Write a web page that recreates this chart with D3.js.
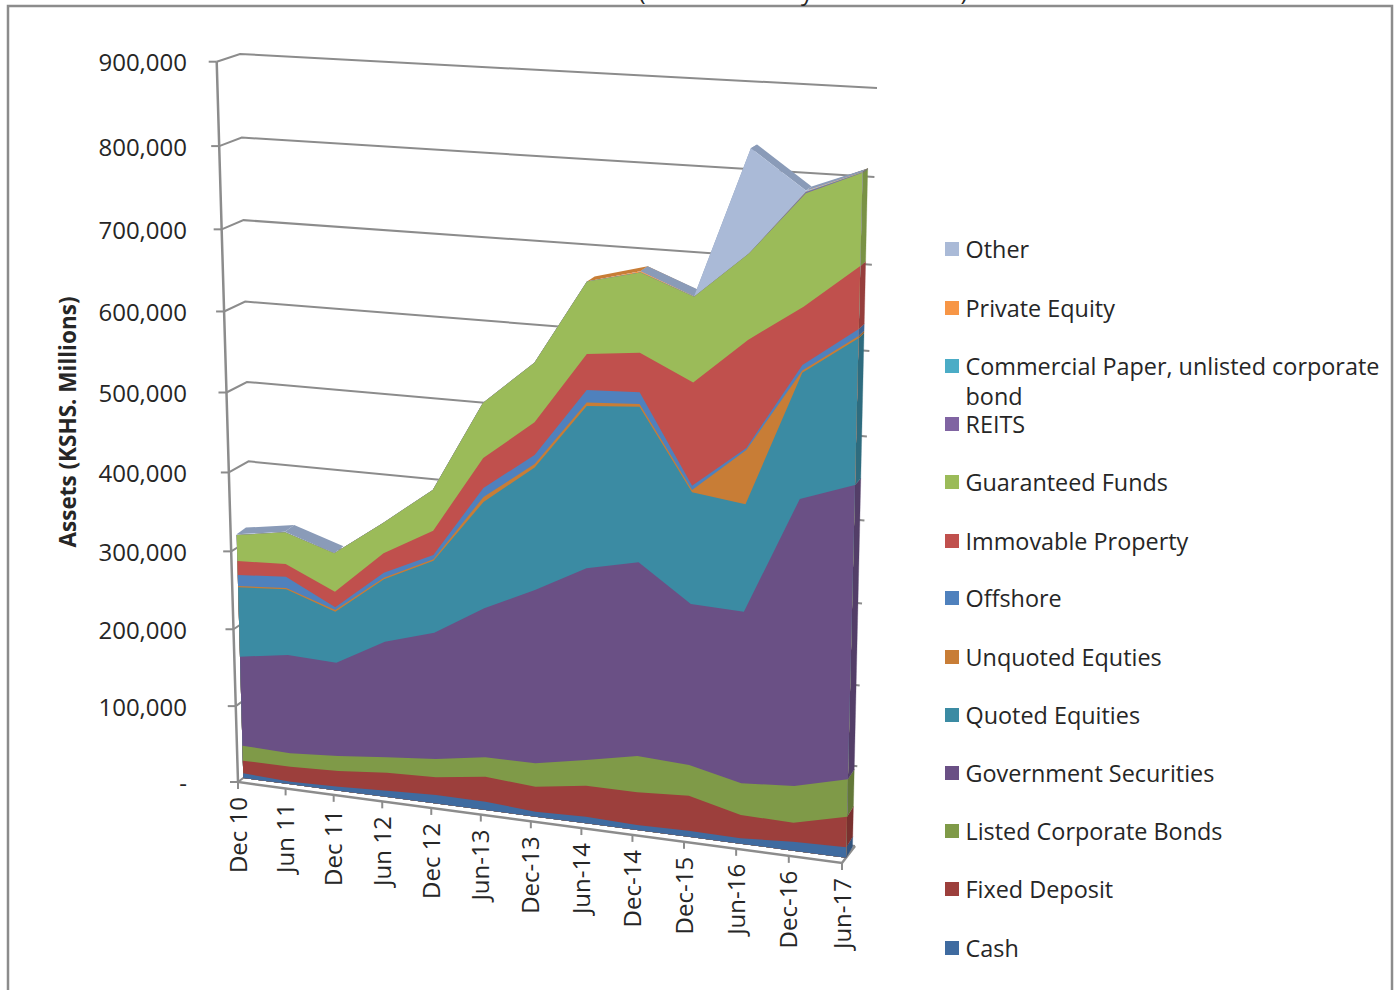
<!DOCTYPE html>
<html>
<head>
<meta charset="utf-8">
<style>
  html, body { margin: 0; padding: 0; background: #fff; overflow: hidden; }
  text { font-family: "Open Sans", "Noto Sans", sans-serif; fill: #262626; }
</style>
<script src="https://cdn.jsdelivr.net/npm/d3@7"></script>
</head>
<body>
<svg id="svg"></svg>
<script>
var width = 1398, height = 990;

var dates = ['Dec 10', 'Jun 11', 'Dec 11', 'Jun 12', 'Dec 12', 'Jun-13', 'Dec-13', 'Jun-14', 'Dec-14', 'Dec-15', 'Jun-16', 'Dec-16', 'Jun-17'];
var yTicks = [0, 100000, 200000, 300000, 400000, 500000, 600000, 700000, 800000, 900000];

// values in KSHS millions
var cash = [6200, 3400, 5200, 8300, 11100, 10800, 6400, 8500, 6400, 7900, 6900, 11400, 13100];
var fixedDeposit = [16800, 19800, 20700, 23600, 23000, 32400, 32200, 39800, 41800, 44500, 29500, 24000, 38400];
var listedBonds = [19800, 17700, 19600, 20000, 23900, 25000, 30100, 32800, 46100, 38800, 40100, 46000, 46600];
var government = [116800, 128300, 121200, 149100, 161900, 189600, 219000, 240500, 241400, 200300, 212700, 350600, 356800];
var quoted = [89800, 84600, 65500, 79400, 90800, 132400, 151200, 197600, 188300, 135900, 130000, 149000, 171300];
var unquoted = [1600, 1700, 2200, 2000, 1700, 6200, 4100, 4000, 3100, 2700, 64900, 2400, 2600];
var offshore = [14200, 14300, 3500, 6300, 5500, 11100, 11000, 15200, 14200, 5200, 2500, 6600, 8100];
var immovable = [18000, 16300, 19800, 24400, 30300, 36800, 39700, 42900, 46900, 123000, 127200, 67600, 72300];
var guaranteed = [33200, 40300, 48800, 38200, 50600, 67100, 71900, 85700, 94200, 100900, 100500, 129800, 105600];
var reits = [0, 0, 0, 0, 0, 0, 0, 0, 0, 0, 0, 1000, 300];
var commercial = [0, 0, 0, 0, 0, 0, 0, 0, 0, 0, 0, 500, 200];
var privateEquity = [0, 0, 0, 0, 0, 0, 0, 0, 1500, 0, 0, 300, 200];
var other = [800, 800, 0, 0, 0, 0, 0, 0, 0, 600, 120000, 1200, 0];

var names = ['Cash', 'Fixed Deposit', 'Listed Corporate Bonds', 'Government Securities', 'Quoted Equities', 'Unquoted Equties', 'Offshore', 'Immovable Property', 'Guaranteed Funds', 'REITS', 'Commercial Paper, unlisted corporate bond', 'Private Equity', 'Other'];
var values = [cash, fixedDeposit, listedBonds, government, quoted, unquoted, offshore, immovable, guaranteed, reits, commercial, privateEquity, other];
var colors = ['#3f6ba0', '#9c3f3c', '#7f9a48', '#6a5085', '#3b8ba3', '#c87d36', '#4f81bd', '#c0504d', '#9bbb59', '#8064a2', '#4bacc6', '#f79646', '#aabad7'];
var surfaceColors = {'REITS': '#6a5085', 'Commercial Paper, unlisted corporate bond': '#3b8ba3', 'Private Equity': '#c87d36', 'Other': '#8a9bb8'};

var svg = d3.select('#svg').attr('width', width).attr('height', height);

// frame of the original picture, cut off at the bottom
svg.append('rect').attr('x', 8).attr('y', 6).attr('width', 1384).attr('height', 1020)
  .attr('fill', 'none').attr('stroke', '#8c8c8c').attr('stroke-width', 2.5);

// bottom of the clipped title
svg.append('text').attr('x', 642).attr('y', 0).attr('text-anchor', 'middle').attr('font-size', 24).text('(');
svg.append('text').attr('x', 807).attr('y', 0).attr('text-anchor', 'middle').attr('font-size', 24).text('y');
svg.append('text').attr('x', 964).attr('y', 0).attr('text-anchor', 'middle').attr('font-size', 24).text(')');

// maps the unit square onto a quad, corners given as (0,0) (1,0) (1,1) (0,1)
function plane(p0, p1, p2, p3) {
  var dx1 = p1[0] - p2[0], dx2 = p3[0] - p2[0], sx = p0[0] - p1[0] + p2[0] - p3[0];
  var dy1 = p1[1] - p2[1], dy2 = p3[1] - p2[1], sy = p0[1] - p1[1] + p2[1] - p3[1];
  var den = dx1 * dy2 - dx2 * dy1;
  var g = (sx * dy2 - dx2 * sy) / den, h = (dx1 * sy - sx * dy1) / den;
  var a = p1[0] - p0[0] + g * p1[0], b = p3[0] - p0[0] + h * p3[0];
  var d = p1[1] - p0[1] + g * p1[1], e = p3[1] - p0[1] + h * p3[1];
  return function (u, v) {
    var w = g * u + h * v + 1;
    return [(a * u + b * v + p0[0]) / w, (d * u + e * v + p0[1]) / w];
  };
}

var x = d3.scaleLinear().domain([0, dates.length - 1]).range([0, 1]);
var y = d3.scaleLinear().domain([0, 900000]).range([0, 1]);

var axisPlane = plane([238, 782], [842, 863], [859, 100], [216.7, 61.7]);
var wallPlane = plane([255, 769], [855, 846], [877, 88], [240, 54]);
var frontPlane = plane([243.3, 778], [846, 857.7], [864.4, 96.4], [223.6, 59.3]);
var backPlane = plane([253.3, 770], [852.5, 847], [869.4, 93.4], [231.6, 54.3]);

var lineGen = d3.line();
var gridColor = '#8c8c8c';

// gridlines run from the left axis to the wall corner, then along the wall
yTicks.forEach(function (t) {
  svg.append('path')
    .attr('d', lineGen([axisPlane(0, y(t)), wallPlane(0, y(t)), wallPlane(1, y(t))]))
    .attr('fill', 'none').attr('stroke', gridColor).attr('stroke-width', 2);
  var p = axisPlane(0, y(t));
  svg.append('line').attr('x1', p[0] - 8).attr('x2', p[0]).attr('y1', p[1]).attr('y2', p[1])
    .attr('stroke', gridColor).attr('stroke-width', 2);
  svg.append('text').attr('x', 187).attr('y', p[1] + 1).attr('dy', '0.36em')
    .attr('text-anchor', 'end').attr('font-size', 24)
    .text(t === 0 ? '-' : d3.format(',')(t));
});

// left axis and front edge of the floor
svg.append('path').attr('d', lineGen([axisPlane(0, 1), axisPlane(0, 0), axisPlane(1, 0), wallPlane(1, 0)]))
  .attr('fill', 'none').attr('stroke', gridColor).attr('stroke-width', 2.5);

dates.forEach(function (label, i) {
  var p = axisPlane(x(i), 0);
  svg.append('line').attr('x1', p[0]).attr('x2', p[0]).attr('y1', p[1]).attr('y2', p[1] + 7)
    .attr('stroke', gridColor).attr('stroke-width', 2);
  svg.append('text').attr('transform', 'translate(' + p[0] + ',' + (p[1] + 15) + ') rotate(-90)')
    .attr('text-anchor', 'end').attr('dy', '0.36em').attr('font-size', 24).text(label);
});

svg.append('text').attr('transform', 'translate(68,422) rotate(-90)')
  .attr('text-anchor', 'middle').attr('dy', '0.36em').attr('font-size', 22.5).attr('font-weight', 'bold')
  .text('Assets (KSHS. Millions)');

// stack the series
var rows = dates.map(function (d, i) {
  var row = {};
  names.forEach(function (n, k) { row[n] = values[k][i]; });
  return row;
});
var layers = d3.stack().keys(names)(rows);

// top surfaces of the highest series, only where the series exists
layers.forEach(function (layer, k) {
  var col = surfaceColors[names[k]];
  if (!col) return;
  for (var i = 0; i < dates.length - 1; ++i) {
    if (values[k][i] === 0 && values[k][i + 1] === 0) continue;
    var a = layer[i][1], b = layer[i + 1][1];
    svg.append('path')
      .attr('d', lineGen([frontPlane(x(i), y(a)), frontPlane(x(i + 1), y(b)), backPlane(x(i + 1), y(b)), backPlane(x(i), y(a))]) + 'Z')
      .attr('fill', col);
  }
});

// right hand side of the block
layers.forEach(function (layer, k) {
  var last = layer[dates.length - 1];
  if (last[1] - last[0] === 0) return;
  var side = d3.color(colors[k]).darker(0.7).formatHex();
  svg.append('path')
    .attr('d', lineGen([frontPlane(1, y(last[0])), frontPlane(1, y(last[1])), backPlane(1, y(last[1])), backPlane(1, y(last[0]))]) + 'Z')
    .attr('fill', side).attr('stroke', side).attr('stroke-width', 0.3);
});

// front faces, top series first and each one down to the baseline so no seams show
var areaGen = d3.area()
  .x0(function (d, i) { return frontPlane(x(i), 0)[0]; })
  .y0(function (d, i) { return frontPlane(x(i), 0)[1]; })
  .x1(function (d, i) { return frontPlane(x(i), y(d[1]))[0]; })
  .y1(function (d, i) { return frontPlane(x(i), y(d[1]))[1]; });

layers.slice().reverse().forEach(function (layer) {
  svg.append('path').attr('d', areaGen(layer)).attr('fill', colors[layer.index]);
});

// legend
var legendItems = [
  ['Other', 249], ['Private Equity', 308], ['Commercial Paper, unlisted corporate', 366, 'bond'],
  ['REITS', 424], ['Guaranteed Funds', 482], ['Immovable Property', 541], ['Offshore', 598],
  ['Unquoted Equties', 657], ['Quoted Equities', 715], ['Government Securities', 773],
  ['Listed Corporate Bonds', 831], ['Fixed Deposit', 889], ['Cash', 948]
];
var legendColors = ['#aabad7', '#f79646', '#4bacc6', '#8064a2', '#9bbb59', '#c0504d', '#4f81bd', '#c87d36', '#3b8ba3', '#6a5085', '#7f9a48', '#9c3f3c', '#3f6ba0'];
legendItems.forEach(function (item, i) {
  svg.append('rect').attr('x', 945).attr('y', item[1] - 7).attr('width', 14).attr('height', 14).attr('fill', legendColors[i]);
  svg.append('text').attr('x', 965.5).attr('y', item[1] + 1).attr('dy', '0.36em').attr('font-size', 23.4).text(item[0]);
  if (item[2]) {
    svg.append('text').attr('x', 965.5).attr('y', item[1] + 31).attr('dy', '0.36em').attr('font-size', 23.4).text(item[2]);
  }
});
</script>
</body>
</html>
